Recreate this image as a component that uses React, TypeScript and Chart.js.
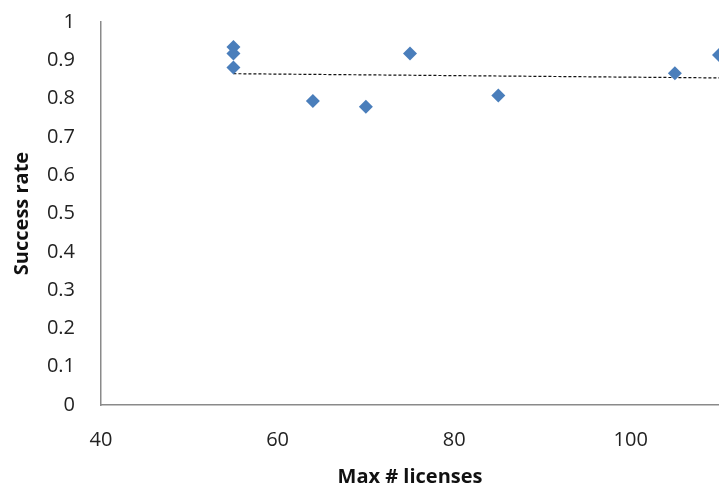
import React, { useEffect, useRef } from "react";
import { Chart, registerables } from "chart.js";

Chart.register(...registerables);

const xTickValues = [40, 60, 80, 100];
const yTickLabels = ["0", "0.1", "0.2", "0.3", "0.4", "0.5", "0.6", "0.7", "0.8", "0.9", "1"];
const licenses = [55, 55, 55, 64, 70, 75, 85, 105, 110];
const successRate = [0.935, 0.918, 0.881, 0.794, 0.779, 0.918, 0.808, 0.866, 0.914];
const trendX = [55, 110];
const trendY = [0.865, 0.854];

const FONT = "'Open Sans', 'Liberation Sans', sans-serif";

export default function App() {
  const ref = useRef<HTMLCanvasElement | null>(null);

  useEffect(() => {
    if (!ref.current) return;
    const chart = new Chart(ref.current, {
      type: "scatter",
      data: {
        datasets: [
          {
            label: "Success rate",
            data: licenses.map((x, i) => ({ x, y: successRate[i] })),
            pointStyle: "rectRot",
            pointRadius: 7,
            pointHoverRadius: 7,
            backgroundColor: "#4A7EBB",
            borderColor: "#4A7EBB",
            borderWidth: 0,
            order: 1,
          },
          {
            label: "Trend",
            type: "line",
            data: trendX.map((x, i) => ({ x, y: trendY[i] })),
            borderColor: "#111",
            borderWidth: 1.2,
            borderDash: [3, 2],
            pointRadius: 0,
            showLine: true,
            fill: false,
            order: 2,
          },
        ],
      },
      options: {
        responsive: false,
        animation: false,
        events: [],
        layout: { autoPadding: false, padding: { left: 0, right: 0, top: 22, bottom: 0 } },
        plugins: { legend: { display: false }, tooltip: { enabled: false } },
        scales: {
          x: {
            type: "linear",
            min: 40,
            max: 110,
            afterBuildTicks: (scale: any) => {
              scale.ticks = xTickValues.map((v) => ({ value: v }));
            },
            afterFit: (scale: any) => {
              scale.height = 84;
              scale.paddingLeft = 0;
              scale.paddingRight = 0;
            },
            grid: { display: false, drawTicks: false },
            border: { display: true, color: "#8a8a8a", width: 1.5 },
            ticks: {
              padding: 23,
              color: "#222",
              font: { family: FONT, size: 20 },
              maxRotation: 0,
            },
            title: {
              display: true,
              text: "Max # licenses",
              color: "#111",
              font: { family: FONT, size: 20, weight: "bold" },
              padding: { top: 0, bottom: 0 },
            },
          },
          y: {
            type: "linear",
            min: 0,
            max: 1,
            ticks: {
              stepSize: 0.1,
              padding: 26,
              color: "#222",
              font: { family: FONT, size: 20 },
              callback: (_v: any, i: number) => yTickLabels[i],
            },
            afterFit: (scale: any) => {
              scale.width = 101;
              scale.paddingTop = 0;
              scale.paddingBottom = 0;
            },
            grid: { display: false, drawTicks: false },
            border: { display: true, color: "#8a8a8a", width: 1.5 },
            title: {
              display: true,
              text: "Success rate",
              color: "#111",
              font: { family: FONT, size: 20, weight: "bold" },
              padding: { top: 10, bottom: 0 },
            },
          },
        },
      },
    } as any);
    return () => chart.destroy();
  }, []);

  return (
    <div style={{ position: "absolute", left: 0, top: 0, width: 719, height: 489, background: "#fff" }}>
      <canvas ref={ref} width={719} height={489} style={{ display: "block" }} />
    </div>
  );
}
